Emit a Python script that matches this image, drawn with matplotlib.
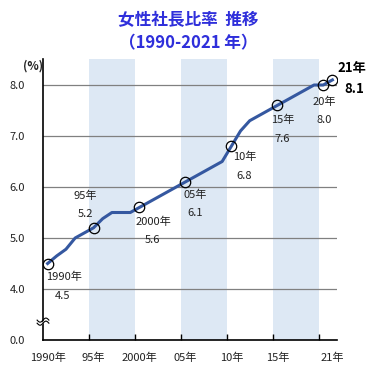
import matplotlib
matplotlib.use("Agg")
import matplotlib.pyplot as plt
import matplotlib.transforms as mtrans
import numpy as np

plt.rcParams['font.family'] = ['Noto Sans CJK JP', 'DejaVu Sans']

years = list(range(1990, 2022))
ratio = [4.5, 4.65, 4.78, 5.0, 5.1, 5.2, 5.38, 5.5, 5.5, 5.5,
         5.6, 5.7, 5.8, 5.9, 6.0, 6.1, 6.2, 6.3, 6.4, 6.5,
         6.8, 7.1, 7.3, 7.4, 7.5, 7.6, 7.7, 7.8, 7.9, 8.0,
         8.0, 8.1]
marker_years = [1990, 1995, 2000, 2005, 2010, 2015, 2020, 2021]
marker_labels = ["1990年", "95年", "2000年", "05年", "10年", "15年", "20年", "21年"]
xtick_years = [1990, 1995, 2000, 2005, 2010, 2015, 2020, 2021]
xtick_labels = ["1990年", "95年", "2000年", "05年", "10年", "15年", "", "21年"]
ytick_vals = [3, 4, 5, 6, 7, 8]
ytick_labels = ["0.0", "4.0", "5.0", "6.0", "7.0", "8.0"]
shade_spans = [(1995, 2000), (2005, 2010), (2015, 2020)]
title_lines = ["女性社長比率  推移", "（1990-2021 年）"]

W, H = 381, 377
fig = plt.figure(figsize=(W / 100, H / 100), dpi=100)
L, R, T, B = 43, 337, 59, 340
ax = fig.add_axes([L / W, 1 - B / H, (R - L) / W, (B - T) / H])

xc = np.array(years) + 0.5
ax.set_xlim(1990, 2022)
ax.set_ylim(3, 8.51)

for a, b in shade_spans:
    ax.axvspan(a, b, color='#dde8f4', zorder=0, lw=0)
for v in [4, 5, 6, 7, 8]:
    ax.axhline(v, color='#808080', lw=0.9, zorder=1)

ax.plot(xc, ratio, color='#3558a0', lw=2.2, zorder=3, solid_joinstyle='round')
mv = [ratio[years.index(y)] for y in marker_years]
ax.plot(np.array(marker_years) + 0.5, mv, 'o', ms=7.5, mfc='none', mec='black',
        mew=0.9, zorder=4)

txtc = '#222222'
# annotation offsets in pixels (dx, dy-down) for year label and value label
offs = [((16, 13), (15, 32)), ((-8, -32), (-8, -14)), ((14, 14), (13, 33)),
        ((10, 13), (10, 31)), ((13, 11), (13, 30)), ((5, 14), (5, 34)),
        ((1, 17), (1, 35)), ((20, -12), (22, 9))]
for (yr, lab, val, (o1, o2)) in zip(marker_years, marker_labels, mv, offs):
    bold = yr == 2021
    fs = 9.5 if bold else 8
    fw = 'bold' if bold else 'normal'
    col = 'black' if bold else txtc
    ax.annotate(lab, (yr + 0.5, val), xytext=(o1[0], -o1[1]),
                textcoords='offset pixels', ha='center', va='center',
                fontsize=fs, fontweight=fw, color=col, zorder=5)
    ax.annotate(f"{val:.1f}", (yr + 0.5, val), xytext=(o2[0], -o2[1]),
                textcoords='offset pixels', ha='center', va='center',
                fontsize=fs, fontweight=fw, color=col, zorder=5)

for s in ['top', 'right']:
    ax.spines[s].set_visible(False)
ax.spines['left'].set_color('black')
ax.spines['bottom'].set_color('black')
ax.spines['left'].set_linewidth(1.2)
ax.spines['bottom'].set_linewidth(1.2)

ax.set_yticks(ytick_vals)
ax.set_yticklabels(ytick_labels, fontsize=8, color=txtc)
ax.tick_params(axis='y', length=0, pad=13)

ax.set_xticks(xtick_years[1:-1])
ax.set_xticklabels([])
ax.tick_params(axis='x', direction='in', length=4, width=1, color='black')
xt = mtrans.blended_transform_factory(ax.transData, fig.transFigure)
for yr, lab in zip(xtick_years, xtick_labels):
    if lab:
        fig.text(yr + 0.5, 1 - 358 / H, lab, transform=xt, ha='center', va='center',
                 fontsize=8, color=txtc)

fig.text(33 / W, 1 - 66 / H, "(%)", ha='center', va='center', fontsize=8.5,
         fontweight='bold', color=txtc)

# axis break mark
yb = 3.33
bx = ax.get_yaxis_transform()
t = np.linspace(-1, 1, 30)
ax.fill_between(t * 0.017, yb + 0.01 + 0.04 * np.sin(t * np.pi),
                yb + 0.05 + 0.04 * np.sin(t * np.pi), color='white',
                transform=bx, clip_on=False, zorder=5.5, lw=0)
for dy in (0.0, 0.06):
    xs = t * 0.02
    ys = yb + dy + 0.04 * np.sin(t * np.pi)
    ax.plot(xs, ys, color='black', lw=0.8, transform=bx, clip_on=False, zorder=6)

tc = '#2f2fdb'
fig.text(188 / W, 1 - 20 / H, title_lines[0], ha='center', va='center',
         fontsize=12, fontweight='bold', color=tc)
fig.text(188 / W, 1 - 43 / H, title_lines[1], ha='center', va='center',
         fontsize=12, fontweight='bold', color=tc)

fig.savefig('out.png', dpi=100)
